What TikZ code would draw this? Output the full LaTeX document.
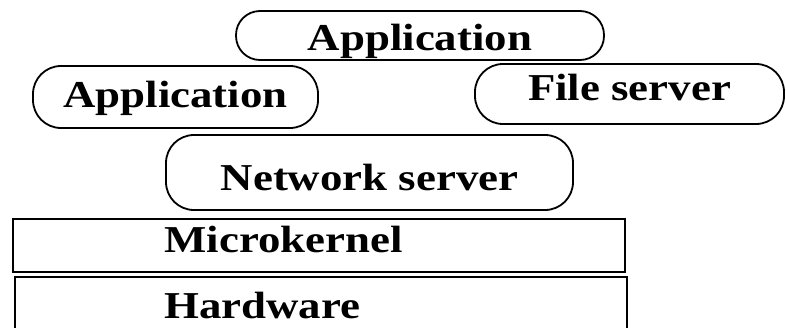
\documentclass[tikz,border=0pt]{standalone}
\usepackage{fontspec}
\newfontfamily\layerfont{Liberation Serif}[FakeStretch=1.18]
\usetikzlibrary{calc}
\tikzset{
	pill/.style={draw, line width=1.8pt, rounded corners=28pt, inner sep=0pt, font=\layerfont\bfseries\fontsize{38}{44}\selectfont},
	layer/.style={draw, line width=1.8pt, inner sep=0pt},
	layertext/.style={inner sep=0pt, font=\layerfont\bfseries\fontsize{38}{44}\selectfont}
}

\begin{document}
\begin{tikzpicture}[x=1pt, y=-1pt]
		\useasboundingbox (0,0) rectangle (786,327);
		\clip (0,0) rectangle (786,327);
		\node[pill, rounded corners=24pt, minimum width=368pt, minimum height=49pt, text height=29pt, text depth=0pt] (appTop) at (420,35.5) {Application};
		\node[pill, minimum width=285pt, minimum height=62pt, text height=20pt, text depth=0pt] (appLeft) at (175.5,97) {Application};
		\node[pill, minimum width=309pt, minimum height=60pt, text height=13pt, text depth=0pt] (fileServer) at (629.5,94) {File server};
		\node[pill, minimum width=407pt, minimum height=75pt, text height=35pt, text depth=0pt] (netServer) at (369.5,172.5) {Network server};
		\node[layer, minimum width=612pt, minimum height=53pt] (kernel) at (319,245.5) {};
		\node[layertext, anchor=base west] (kernelText) at ($(kernel.west)+(152,6.5)$) {Microkernel};
		\node[layer, minimum width=612pt, minimum height=83pt] (hardware) at (321,318.5) {};
		\node[layertext, anchor=base west] (hardwareText) at ($(hardware.west)+(150,0)$) {Hardware};
	\end{tikzpicture}
\end{document}
